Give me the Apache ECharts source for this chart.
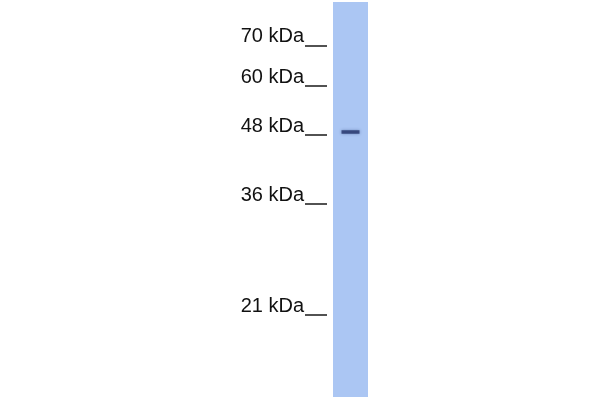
<!DOCTYPE html>
<html>
<head>
<meta charset="utf-8">
<script src="https://cdn.jsdelivr.net/npm/echarts@6/dist/echarts.min.js"></script>
<style>
html,body{margin:0;padding:0;background:#fff;}
#chart{width:600px;height:400px;}
</style>
</head>
<body>
<div id="chart"></div>
<script>
// Lane and marker data (migration = distance from top of lane, px-like units)
const lanes = ['Lane 1'];
const markerLabels = ['70 kDa', '60 kDa', '48 kDa', '36 kDa', '21 kDa'];
const markerMigration = [43.5, 84, 133, 202, 313];
const bandMigration = [130];

const labelShift = 9;
const labelMap = {};
markerMigration.forEach((m, i) => { labelMap[(m - labelShift).toFixed(1)] = markerLabels[i]; });

const chart = echarts.init(document.getElementById('chart'));
chart.setOption({
  animation: false,
  backgroundColor: '#ffffff',
  grid: {
    left: 333, width: 35, top: 2, height: 395,
    show: true, backgroundColor: '#abc6f3', borderWidth: 0
  },
  xAxis: {
    type: 'category', data: lanes, show: false
  },
  yAxis: {
    type: 'value', inverse: true, min: 0, max: 395,
    position: 'left', offset: 6,
    splitLine: { show: false },
    axisLine: { show: false },
    axisTick: {
      show: true, customValues: markerMigration, length: 22,
      lineStyle: { color: '#1a1a1a', width: 1.5 }
    },
    axisLabel: {
      show: true,
      customValues: markerMigration.map(m => m - labelShift),
      margin: 23,
      fontFamily: 'Liberation Sans, Arial, sans-serif',
      fontSize: 20,
      color: '#111111',
      formatter: v => labelMap[Number(v).toFixed(1)] || ''
    }
  },
  series: [{
    type: 'scatter',
    data: lanes.map((l, i) => [l, bandMigration[i]]),
    symbol: 'rect',
    symbolSize: [18, 3.5],
    itemStyle: {
      color: '#25346a',
      shadowBlur: 3,
      shadowColor: 'rgba(40,60,120,0.6)'
    },
    silent: true
  }]
});
</script>
</body>
</html>
